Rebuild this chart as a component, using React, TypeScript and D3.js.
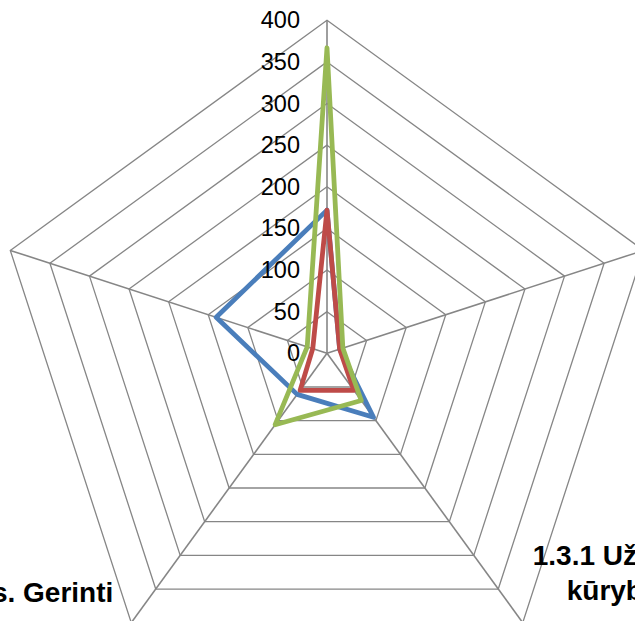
import React from "react";
import * as d3 from "d3";

const categories = [
  ["1.1.1 Mokymosi kokybė"],
  ["1.2.1 Ugdymo aplinka"],
  ["1.3.1 Užtikrinti", "kūrybiškumą"],
  ["1.4.1 Tobulinti procesus. Gerinti"],
  ["1.5.1 Bendradarbiavimas"],
];
const seriesNames = ["Series1", "Series2", "Series3"];
const seriesBlue = [172, 16, 95, 61, 140];
const seriesRed = [172, 16, 55, 55, 18];
const seriesGreen = [367, 20, 70, 106, 25];
const tickValues = [0, 50, 100, 150, 200, 250, 300, 350, 400];

const W = 635;
const H = 621;
const CX = 327;
const CY = 353.3;
const R = 333;
const COLORS = ["#4A7EBB", "#BE4B48", "#98B954"];

export default function App() {
  const r = d3.scaleLinear().domain([0, 400]).range([0, R]);
  const n = categories.length;
  const ang = d3.scaleLinear().domain([0, n]).range([0, 2 * Math.PI]);
  const pt = (i: number, v: number): [number, number] => {
    const a = ang(i);
    return [CX + r(v) * Math.sin(a), CY - r(v) * Math.cos(a)];
  };
  const line = d3
    .line<number>()
    .x((v, i) => pt(i, v)[0])
    .y((v, i) => pt(i, v)[1])
    .curve(d3.curveLinearClosed);

  const rings = tickValues.filter((t) => t > 0);
  const allSeries = [seriesBlue, seriesRed, seriesGreen];

  // label placement offsets relative to each vertex (layout only)
  const labelPos = [
    { dx: 0, dy: -45, anchor: "middle", indent: 0 },
    { dx: 40, dy: 10, anchor: "start", indent: 0 },
    { dx: 10, dy: -58, anchor: "start", indent: 34 },
    { dx: -18, dy: -21, anchor: "end", indent: 0 },
    { dx: -40, dy: 10, anchor: "end", indent: 0 },
  ];

  return (
    <div style={{ position: "fixed", left: 0, top: 0 }}>
      <svg width={W} height={H} style={{ display: "block", background: "#fff" }}>
        <g>
          {rings.map((t) => (
            <path
              key={t}
              d={line(categories.map(() => t)) || ""}
              fill="none"
              stroke="#868686"
              strokeWidth={1.3}
            />
          ))}
          {categories.map((_, i) => {
            const [x, y] = pt(i, 400);
            return (
              <line key={i} x1={CX} y1={CY} x2={x} y2={y} stroke="#868686" strokeWidth={1.6} />
            );
          })}
        </g>
        <g>
          {allSeries.map((s, k) => (
            <path
              key={seriesNames[k]}
              d={line(s) || ""}
              fill="none"
              stroke={COLORS[k]}
              strokeWidth={4.8}
              strokeLinejoin="round"
            />
          ))}
        </g>
        <g fontFamily="'Liberation Sans', Arial, sans-serif" fontSize={23.5} fill="#000">
          {tickValues.map((t) => (
            <text key={t} x={CX - 27} y={CY - r(t)} textAnchor="end" dominantBaseline="central">
              {t}
            </text>
          ))}
        </g>
        <g fontFamily="'Liberation Sans', Arial, sans-serif" fontSize={28} fontWeight="bold" fill="#000">
          {categories.map((lines, i) => {
            const [x, y] = pt(i, 400);
            const p = labelPos[i];
            return (
              <text key={i} x={x + p.dx} y={y + p.dy} textAnchor={p.anchor}>
                {lines.map((l, j) => (
                  <tspan key={j} x={x + p.dx + j * p.indent} dy={j === 0 ? 0 : 35}>
                    {l}
                  </tspan>
                ))}
              </text>
            );
          })}
        </g>
      </svg>
    </div>
  );
}
